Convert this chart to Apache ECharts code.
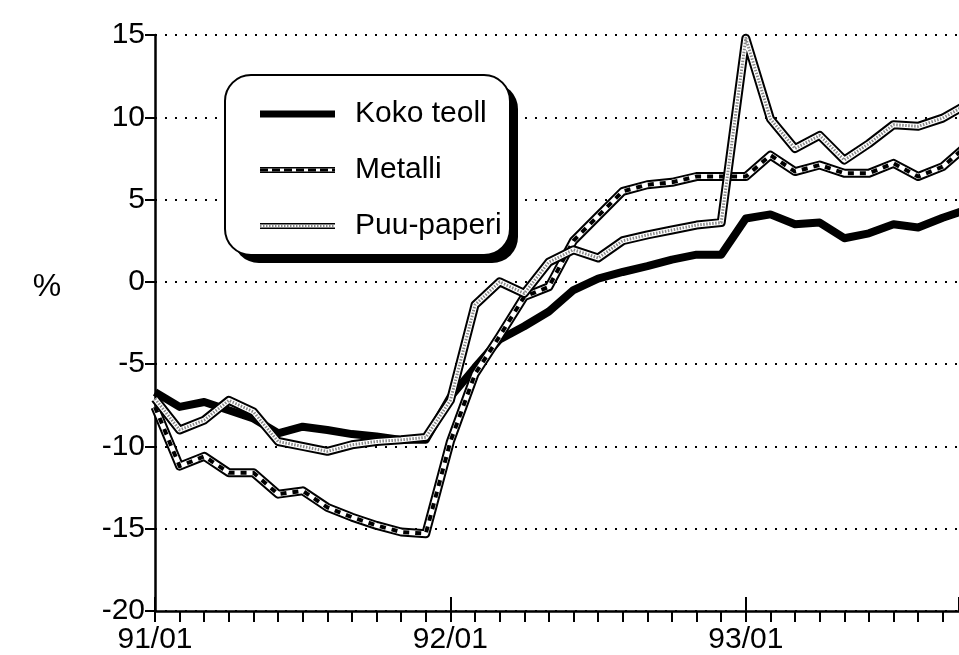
<!DOCTYPE html>
<html><head><meta charset="utf-8">
<script src="https://cdn.jsdelivr.net/npm/echarts@6/dist/echarts.min.js"></script>
<style>html,body{margin:0;padding:0;background:#fff}#c{width:959px;height:655px}</style>
</head><body><div id="c"></div>
<script>
// month index from 91/01
const months = [0,1,2,3,4,5,6,7,8,9,10,11,12,13,14,15,16,17,18,19,20,21,22,23,24,25,26,27,28,29,30,31,32,33];
const kokoTeoll = [-6.7,-7.6,-7.3,-7.8,-8.3,-9.2,-8.8,-9.0,-9.25,-9.4,-9.6,-9.6,-7.0,-5.2,-3.5,-2.7,-1.8,-0.5,0.2,0.6,0.95,1.35,1.65,1.65,3.85,4.1,3.5,3.6,2.65,2.95,3.5,3.3,3.9,4.4];
const metalli = [-7.6,-11.2,-10.6,-11.6,-11.6,-12.9,-12.7,-13.7,-14.3,-14.8,-15.2,-15.3,-9.7,-5.6,-3.3,-0.9,-0.3,2.5,4.0,5.5,5.9,6.05,6.4,6.4,6.4,7.7,6.7,7.1,6.6,6.6,7.2,6.4,7.0,8.3];
const puuPaperi = [-7.1,-9.0,-8.4,-7.2,-7.9,-9.7,-10.0,-10.3,-9.9,-9.7,-9.6,-9.45,-7.2,-1.4,0.0,-0.7,1.2,1.95,1.45,2.5,2.85,3.15,3.45,3.6,14.8,9.9,8.1,8.9,7.4,8.4,9.55,9.45,9.95,10.8];
const xTickMonths = [0,12,24];
const xTickLabels = ['91/01','92/01','93/01'];
const legendNames = ['Koko teoll','Metalli','Puu-paperi'];
const yUnit = '%';

const FONT = '"Liberation Sans", Arial, Helvetica, sans-serif';
const xMax = 32.66;
function pairs(vals){ return months.map((m,i)=>[m, vals[i]]); }

// layered line styles: [color, width, dash]
const styles = [
  [['#000',8,null]],
  [['#000',9,null],['#fff',5,null],['#000',4,[6,6]]],
  [['#000',9,null],['#fff',5,null],['#888',3,[1.5,1.5]]]
];
const dataSets = [kokoTeoll, metalli, puuPaperi];

const series = [];
dataSets.forEach((vals, si) => {
  styles[si].forEach((l, li) => {
    series.push({
      name: legendNames[si] + (li ? '_' + li : ''),
      type: 'line', data: pairs(vals), symbol: 'none', clip: true,
      z: 2 + si * 3 + li, silent: true,
      lineStyle: {color: l[0], width: l[1], type: l[2] || 'solid', join: 'round', cap: 'butt'}
    });
  });
});

// legend graphics
const gfx = [];
const bx = 225, by = 75, bw = 285, bh = 180;
gfx.push({type:'rect', z:100, shape:{x:bx+8,y:by+8,width:bw,height:bh,r:26}, style:{fill:'#000'}});
gfx.push({type:'rect', z:101, shape:{x:bx,y:by,width:bw,height:bh,r:26}, style:{fill:'#fff',stroke:'#000',lineWidth:2}});
const legY = [114, 170, 226];
const legStyles = [
  [['#000',7,null]],
  [['#000',6,null],['#fff',3,null],['#000',3,[8,4]]],
  [['#000',6,null],['#fff',3,null],['#888',2,[1.5,1.5]]]
];
legendNames.forEach((nm, i) => {
  legStyles[i].forEach((l, li) => {
    gfx.push({type:'line', z:102+li, shape:{x1:260,y1:legY[i],x2:335,y2:legY[i]},
      style:{stroke:l[0], lineWidth:l[1], lineDash:l[2] || null}});
  });
  gfx.push({type:'text', z:110, x:355, y:legY[i], style:{text:nm, fill:'#000', font:'30px ' + FONT, verticalAlign:'middle', align:'left'}});
});
gfx.push({type:'text', z:110, x:47, y:287, style:{text:yUnit, fill:'#000', font:'32px ' + FONT, verticalAlign:'middle', align:'center'}});

const chart = echarts.init(document.getElementById('c'), null, {renderer:'canvas'});
chart.setOption({
  animation: false,
  backgroundColor: '#fff',
  grid: {left:155, right:0, top:35, bottom:44},
  xAxis: [{
    type:'value', min:0, max:xMax, interval:1, position:'bottom',
    axisLine:{show:true, onZero:false, lineStyle:{color:'#000', width:2.5}},
    axisTick:{show:true, inside:false, length:11, lineStyle:{color:'#000', width:2}},
    splitLine:{show:false},
    axisLabel:{color:'#000', fontSize:30, fontFamily:FONT, margin:14, showMaxLabel:false,
      formatter: v => { const i = xTickMonths.indexOf(v); return i >= 0 ? xTickLabels[i] : ''; }}
  },{
    type:'value', min:0, max:xMax, interval:12, position:'bottom',
    axisLine:{show:false, onZero:false}, axisLabel:{show:false}, splitLine:{show:false},
    axisTick:{show:true, inside:true, length:14, lineStyle:{color:'#000', width:2}}
  }],
  yAxis: {
    type:'value', min:-20, max:15, interval:5,
    axisLine:{show:true, lineStyle:{color:'#000', width:2.5}},
    axisTick:{show:true, length:10, lineStyle:{color:'#000', width:2}},
    axisLabel:{color:'#000', fontSize:30, fontFamily:FONT, margin:10},
    splitLine:{show:true, lineStyle:{color:'#000', width:2, type:[2,8]}}
  },
  graphic: gfx,
  series: series
});
</script>
</body></html>
